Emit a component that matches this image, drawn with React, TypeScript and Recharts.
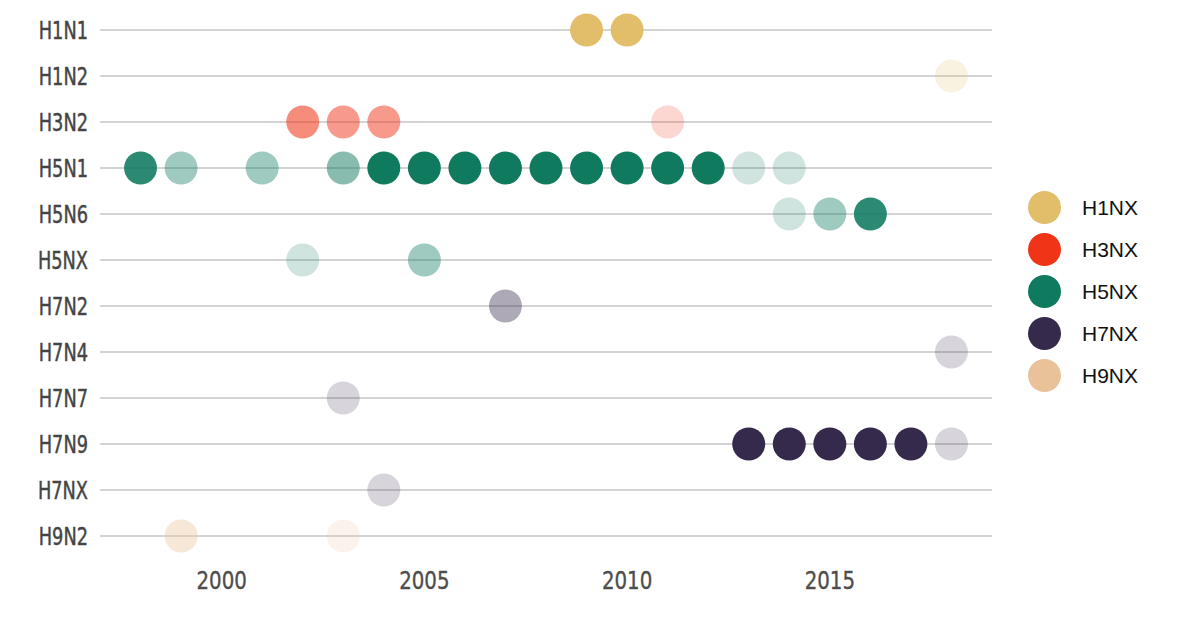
import { CartesianGrid, Scatter, ScatterChart, XAxis, YAxis } from "recharts";

// rows, top to bottom
const SUBTYPES = [
  "H1N1", "H1N2", "H3N2", "H5N1", "H5N6", "H5NX",
  "H7N2", "H7N4", "H7N7", "H7N9", "H7NX", "H9N2",
];
const GROUPS = ["H1NX", "H3NX", "H5NX", "H7NX", "H9NX"];
const GROUP_COLORS = ["#E2BD6A", "#F03418", "#0F7A5E", "#35294C", "#E9C29A"];
const X_TICKS = [2000, 2005, 2010, 2015];

// year of each dot and its intensity level (1 = faint ... 6 = full)
const H1N1_YEARS = [2009, 2010];
const H1N1_LEVELS = [6, 6];
const H1N2_YEARS = [2018];
const H1N2_LEVELS = [1];
const H3N2_YEARS = [2002, 2003, 2004, 2011];
const H3N2_LEVELS = [4, 3, 3, 1];
const H5N1_YEARS = [1998, 1999, 2001, 2003, 2004, 2005, 2006, 2007, 2008, 2009, 2010, 2011, 2012, 2013, 2014];
const H5N1_LEVELS = [5, 2, 2, 3, 6, 6, 6, 6, 6, 6, 6, 6, 6, 1, 1];
const H5N6_YEARS = [2014, 2015, 2016];
const H5N6_LEVELS = [1, 2, 5];
const H5NX_YEARS = [2002, 2005];
const H5NX_LEVELS = [1, 2];
const H7N2_YEARS = [2007];
const H7N2_LEVELS = [2];
const H7N4_YEARS = [2018];
const H7N4_LEVELS = [1];
const H7N7_YEARS = [2003];
const H7N7_LEVELS = [1];
const H7N9_YEARS = [2013, 2014, 2015, 2016, 2017, 2018];
const H7N9_LEVELS = [6, 6, 6, 6, 6, 1];
const H7NX_YEARS = [2004];
const H7NX_LEVELS = [1];
const H9N2_YEARS = [1999, 2003];
const H9N2_LEVELS = [2, 1];

const OPACITY: Record<number, number> = { 1: 0.2, 2: 0.4, 3: 0.5, 4: 0.57, 5: 0.88, 6: 1 };

const ROWS: { name: string; years: number[]; levels: number[] }[] = [
  { name: "H1N1", years: H1N1_YEARS, levels: H1N1_LEVELS },
  { name: "H1N2", years: H1N2_YEARS, levels: H1N2_LEVELS },
  { name: "H3N2", years: H3N2_YEARS, levels: H3N2_LEVELS },
  { name: "H5N1", years: H5N1_YEARS, levels: H5N1_LEVELS },
  { name: "H5N6", years: H5N6_YEARS, levels: H5N6_LEVELS },
  { name: "H5NX", years: H5NX_YEARS, levels: H5NX_LEVELS },
  { name: "H7N2", years: H7N2_YEARS, levels: H7N2_LEVELS },
  { name: "H7N4", years: H7N4_YEARS, levels: H7N4_LEVELS },
  { name: "H7N7", years: H7N7_YEARS, levels: H7N7_LEVELS },
  { name: "H7N9", years: H7N9_YEARS, levels: H7N9_LEVELS },
  { name: "H7NX", years: H7NX_YEARS, levels: H7NX_LEVELS },
  { name: "H9N2", years: H9N2_YEARS, levels: H9N2_LEVELS },
];

const groupColor = (subtype: string) => GROUP_COLORS[GROUPS.indexOf(subtype.slice(0, 2) + "NX")];

const NARROW = "'DejaVu Sans Condensed', 'DejaVu Sans', sans-serif";

// condensed look of the original labels: squeeze DejaVu horizontally
const YTick = (p: any) => (
  <g transform={`translate(${p.x},${p.y}) scale(0.79,1)`}>
    <text
      x={0}
      y={0}
      dy="0.36em"
      textAnchor="end"
      fill="#444"
      stroke="#444"
      strokeWidth={0.45}
      fontSize={25}
      fontFamily={NARROW}
    >
      {SUBTYPES[p.payload.value] ?? ""}
    </text>
  </g>
);

const XTick = (p: any) => (
  <g transform={`translate(${p.x},${p.y}) scale(0.88,1)`}>
    <text
      x={0}
      y={0}
      dy="0.73em"
      textAnchor="middle"
      fill="#4d4d4d"
      stroke="#4d4d4d"
      strokeWidth={0.35}
      fontSize={25}
      fontFamily={NARROW}
    >
      {p.payload.value}
    </text>
  </g>
);

export default function App() {
  return (
    <div style={{ position: "fixed", left: 0, top: 0, width: 1197, height: 621, background: "#fff" }}>
      <ScatterChart width={1197} height={621} margin={{ top: 7, right: 205, bottom: 0, left: 0 }}>
        <CartesianGrid vertical={false} syncWithTicks stroke="#c6c6c6" strokeWidth={1.5} />
        <XAxis
          type="number"
          dataKey="year"
          domain={[1997, 2019]}
          ticks={X_TICKS}
          height={62}
          axisLine={false}
          tickLine={false}
          tickSize={0}
          tickMargin={12}
          tick={<XTick />}
        />
        <YAxis
          type="number"
          dataKey="row"
          reversed
          domain={[-0.5, SUBTYPES.length - 0.5]}
          ticks={SUBTYPES.map((_, i) => i)}
          interval={0}
          width={100}
          axisLine={false}
          tickLine={false}
          tickSize={0}
          tickMargin={12}
          tick={<YTick />}
        />
        {ROWS.map((r) => {
          const color = groupColor(r.name);
          const row = SUBTYPES.indexOf(r.name);
          const data = r.years.map((year, i) => ({ year, row, level: r.levels[i] }));
          return (
            <Scatter
              key={r.name}
              name={r.name}
              data={data}
              isAnimationActive={false}
              shape={(p: any) => (
                <circle
                  cx={p.cx}
                  cy={p.cy}
                  r={16.5}
                  fill={color}
                  fillOpacity={OPACITY[p.payload?.level ?? 6]}
                />
              )}
            />
          );
        })}
      </ScatterChart>
      <div style={{ position: "absolute", left: 1028, top: 186 }}>
        {GROUPS.map((g, i) => (
          <div key={g} style={{ display: "flex", alignItems: "center", height: 42 }}>
            <svg width={33} height={33} style={{ display: "block" }}>
              <circle cx={16.5} cy={16.5} r={16.5} fill={GROUP_COLORS[i]} />
            </svg>
            <span
              style={{
                marginLeft: 21,
                fontFamily: "'Liberation Sans', Arial, sans-serif",
                fontSize: 21,
                color: "#111",
                lineHeight: "33px",
              }}
            >
              {g}
            </span>
          </div>
        ))}
      </div>
    </div>
  );
}
